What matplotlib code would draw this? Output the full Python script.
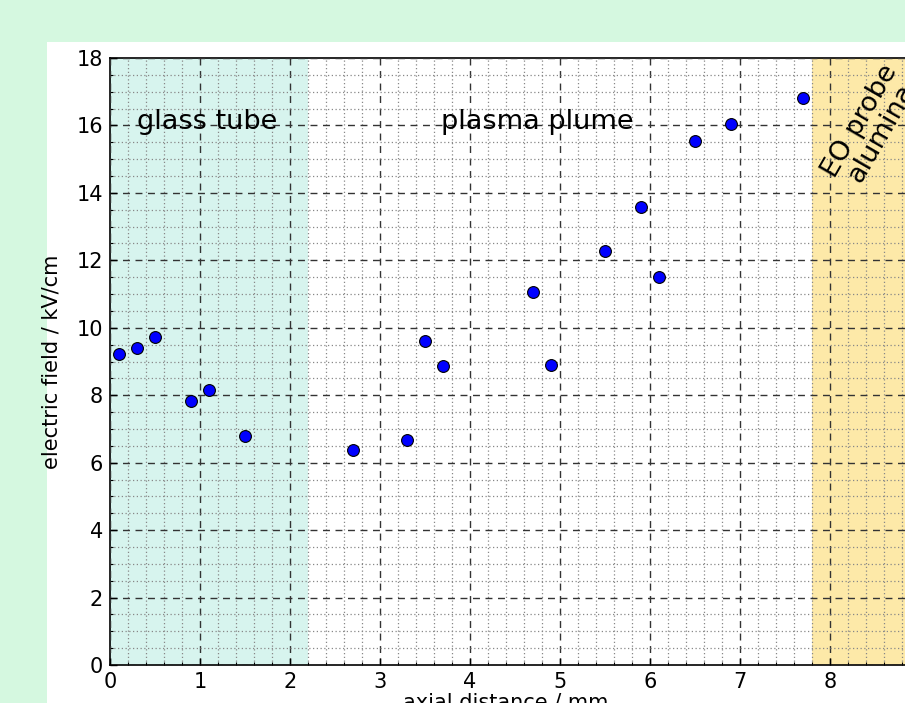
"""
Axial electric field along a plasma jet, measured with an EO probe.
"""
import matplotlib
matplotlib.use("Agg")
import matplotlib.pyplot as plt
from matplotlib.patches import Rectangle
from matplotlib.ticker import MultipleLocator

# axial position (mm) and field strength (kV/cm)
distance = [0.1, 0.3, 0.5, 0.9, 1.1, 1.5, 2.7, 3.3, 3.5, 3.7,
            4.7, 4.9, 5.5, 5.9, 6.1, 6.5, 6.9, 7.7]
field = [9.22, 9.4, 9.73, 7.83, 8.16, 6.79, 6.38, 6.67, 9.61, 8.87,
         11.06, 8.9, 12.28, 13.58, 11.5, 15.54, 16.04, 16.8]

# regions along the axis
glass_end = 2.2
probe_start = 7.8

fig = plt.figure(figsize=(9.05, 7.03), dpi=100, facecolor="#d5f8e0")
# white page behind the axes (the figure sits cropped inside a slide)
fig.patches.append(Rectangle((47 / 905, 0), 1, (703 - 42) / 703,
                             transform=fig.transFigure, facecolor="white",
                             edgecolor="none", zorder=-10))

ax = fig.add_axes([110 / 905, 38 / 703, 810 / 905, 607 / 703])

ax.axvspan(0, glass_end, color="#d7f4ee", lw=0, zorder=0)
ax.axvspan(probe_start, 10, color="#fde9a8", lw=0, zorder=0)

ax.plot(distance, field, "o", color="blue", mec="black", mew=0.8, ms=8.5,
        zorder=5)

ax.set_xlim(0, 9)
ax.set_ylim(0, 18)
ax.xaxis.set_major_locator(MultipleLocator(1))
ax.xaxis.set_minor_locator(MultipleLocator(0.2))
ax.yaxis.set_major_locator(MultipleLocator(2))
ax.yaxis.set_minor_locator(MultipleLocator(0.5))

ax.grid(which="major", ls=(0, (5, 4)), color="#333333", lw=1.0, zorder=1)
ax.grid(which="minor", ls=(0, (1, 2)), color="#888888", lw=0.9, zorder=1)
ax.set_axisbelow(False)

ax.tick_params(which="both", direction="in", labelsize=15, colors="black")
ax.tick_params(which="major", length=5, width=1)
ax.tick_params(which="minor", length=2.5, width=0.8)
ax.tick_params(axis="x", pad=5)
ax.tick_params(axis="y", pad=5)

ax.set_xlabel("axial distance / mm", fontsize=15)
ax.set_ylabel("electric field / kV/cm", fontsize=15)
ax.xaxis.set_label_coords((506 - 110) / 810, -0.045)
ax.yaxis.set_label_coords(-(110 - 62) / 810, 0.5)

ax.text(1.08, 16.1, "glass tube", fontsize=19.5, ha="center", va="center",
        zorder=6)
ax.text(4.75, 16.1, "plasma plume", fontsize=19.5, ha="center", va="center",
        zorder=6)
ax.text(8.45, 15.95, "EO probe\nalumina", fontsize=19.5, ha="center",
        va="center", rotation=60, linespacing=0.95, zorder=6)

for s in ax.spines.values():
    s.set_color("black")
    s.set_linewidth(1.2)

fig.savefig("out.png", dpi=100, facecolor=fig.get_facecolor())
